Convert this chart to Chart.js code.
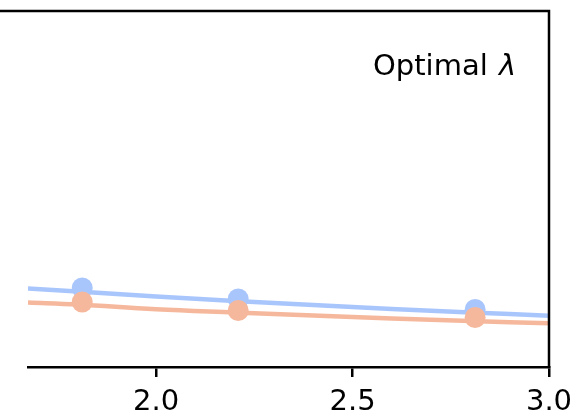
<!DOCTYPE html>
<html>
<head>
<meta charset="utf-8">
<script src="https://cdn.jsdelivr.net/npm/chart.js@4.4.1/dist/chart.umd.min.js"></script>
<style>
html,body{margin:0;padding:0;background:#fff;}
#wrap{width:575px;height:415px;position:relative;}
</style>
</head>
<body>
<div id="wrap"><canvas id="c" width="575" height="415"></canvas></div>
<script>
// ---- data ----
const curveX      = [1.674, 1.8, 2.0, 2.2, 2.4, 2.6, 2.8, 3.0];
const curveBlue   = [2.205, 2.121, 1.980, 1.854, 1.742, 1.629, 1.531, 1.441];
const curveOrange = [1.812, 1.756, 1.621, 1.531, 1.447, 1.362, 1.292, 1.228];
const pointX      = [1.812, 2.209, 2.812];
const pointBlue   = [2.219, 1.910, 1.615];
const pointOrange = [1.826, 1.587, 1.390];
const xTickValues = [2.0, 2.5, 3.0];
const annotation  = ['Optimal ', 'λ'];

const BLUE = 'rgb(169,198,252)';
const ORANGE = 'rgb(246,184,156)';
const FONT = '"DejaVu Sans", "Liberation Sans", sans-serif';

const toXY = (xs, ys) => xs.map((x, i) => ({x: x, y: ys[i]}));

const frame = {
  id: 'frame',
  afterDraw(chart) {
    const {ctx, chartArea: a} = chart;
    ctx.save();
    ctx.strokeStyle = '#000';
    ctx.lineWidth = 2.5;
    ctx.lineCap = 'square';
    ctx.beginPath();
    ctx.moveTo(0, a.top);
    ctx.lineTo(a.right, a.top);
    ctx.lineTo(a.right, a.bottom);
    ctx.stroke();
    // annotation text
    ctx.fillStyle = '#000';
    ctx.textBaseline = 'alphabetic';
    ctx.font = '29px ' + FONT;
    const x0 = 373, y0 = 75;
    ctx.fillText(annotation[0], x0, y0);
    const w = ctx.measureText(annotation[0]).width;
    ctx.font = 'italic 29px ' + FONT;
    ctx.fillText(annotation[1], x0 + w + 2, y0);
    ctx.restore();
  }
};

new Chart(document.getElementById('c'), {
  type: 'line',
  data: {
    datasets: [
      {data: toXY(curveX, curveBlue), borderColor: BLUE, borderWidth: 4.5, pointRadius: 0, tension: 0.4, order: 4},
      {data: toXY(curveX, curveOrange), borderColor: ORANGE, borderWidth: 4.5, pointRadius: 0, tension: 0.4, order: 3},
      {data: toXY(pointX, pointBlue), showLine: false, pointRadius: 10.5, pointBorderWidth: 0, pointBackgroundColor: BLUE, backgroundColor: BLUE, order: 2},
      {data: toXY(pointX, pointOrange), showLine: false, pointRadius: 10.5, pointBorderWidth: 0, pointBackgroundColor: ORANGE, backgroundColor: ORANGE, order: 1}
    ]
  },
  options: {
    responsive: false,
    animation: false,
    layout: {padding: {left: 28, top: 11, right: 26, bottom: 0}},
    plugins: {legend: {display: false}, tooltip: {enabled: false}},
    scales: {
      x: {
        type: 'linear',
        min: 1.674,
        max: 3.0,
        afterBuildTicks(scale) { scale.ticks = xTickValues.map(v => ({value: v})); },
        afterFit(scale) { scale.height = 48; scale.paddingLeft = 0; scale.paddingRight = 0; },
        grid: {display: true, drawOnChartArea: false, drawTicks: true, tickLength: 10, color: '#000', lineWidth: 2.5},
        border: {display: true, color: '#000', width: 2.5},
        ticks: {
          color: '#000',
          padding: 8,
          maxRotation: 0,
          autoSkip: false,
          font: {family: FONT, size: 29},
          callback: v => Number(v).toFixed(1)
        }
      },
      y: {
        type: 'linear',
        display: false,
        min: 0,
        max: 10
      }
    }
  },
  plugins: [frame]
});
</script>
</body>
</html>
